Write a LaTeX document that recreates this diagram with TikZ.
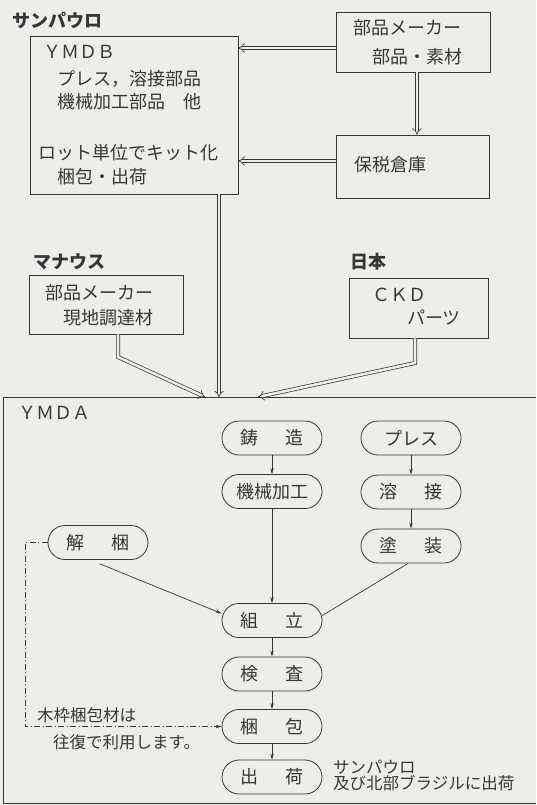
\documentclass[tikz,border=0pt]{standalone}
\usepackage{fontspec}
\setmainfont{Noto Sans CJK JP}
\usetikzlibrary{arrows.meta}
\definecolor{bg}{RGB}{237,237,234}
\definecolor{ink}{RGB}{55,55,55}
\begin{document}
\begin{tikzpicture}[x=1pt,y=-1pt,
  txt/.style={font=\fontsize{18}{22}\selectfont, text=ink, inner sep=0pt, anchor=west},
  smalltxt/.style={font=\fontsize{16.5}{20}\selectfont, text=ink, inner sep=0pt, anchor=west},
  lbl/.style={font=\bfseries\fontsize{18}{22}\selectfont, text=ink, inner sep=0pt, anchor=west},
  box/.style={draw=ink, line width=0.8pt, inner sep=0pt},
  stad/.style={draw=ink, line width=0.8pt, rounded corners=17pt, minimum width=100pt, minimum height=34pt, inner sep=0pt, font=\fontsize{18}{22}\selectfont, text=ink},
  dbl/.style={draw=ink, double=bg, double distance=2.6pt, line width=0.7pt, line join=miter, -{Implies[scale=1.6]}},
  thinarrow/.style={draw=ink, line width=0.7pt, -{Stealth[length=6pt,width=3.5pt]}},
  thinline/.style={draw=ink, line width=0.7pt},
  dashdot/.style={draw=ink, line width=0.7pt, dash pattern=on 6pt off 2.5pt on 1pt off 2.5pt, -{Stealth[length=6pt,width=3.5pt]}}
]
\fill[bg] (0,0) rectangle (536,805);
\useasboundingbox (0,0) rectangle (536,805);

% top region
\node[lbl] (lsp) at (12,20) {サンパウロ};
\node[box, minimum width=208pt, minimum height=158pt] (ymdb) at (134,115) {};
\node[txt] (t1) at (43,52) {ＹＭＤＢ};
\node[txt] (t2) at (57,79) {プレス，溶接部品};
\node[txt] (t3) at (57,102) {機械加工部品　他};
\node[txt] (t4) at (38,153) {ロット単位でキット化};
\node[txt] (t5) at (57,177) {梱包・出荷};

\node[box, minimum width=154pt, minimum height=60pt] (buhin) at (413,42) {};
\node[txt] (t6) at (353,28) {部品メーカー};
\node[txt] (t7) at (372,57) {部品・素材};

\node[box, minimum width=153pt, minimum height=63pt] (hozei) at (412.5,166.5) {};
\node[txt] (t8) at (354,165) {保税倉庫};

\node[lbl] (lma) at (33,262) {マナウス};
\node[box, minimum width=154pt, minimum height=59pt] (manaus) at (106,304.5) {};
\node[txt] (t9) at (45,293) {部品メーカー};
\node[txt] (t10) at (63,318) {現地調達材};

\node[lbl] (lja) at (350,262) {日本};
\node[box, minimum width=139pt, minimum height=60pt] (ckd) at (418.5,308) {};
\node[txt] (t11) at (372,295) {ＣＫＤ};
\node[txt] (t12) at (407,318) {パーツ};

% YMDA frame
\draw[ink, line width=0.8pt] (536,397) -- (3,397) -- (3,803) -- (536,803);
\node[txt] (tymda) at (18,413) {ＹＭＤＡ};

\coordinate (h1) at (0,48);
\coordinate (h2) at (0,161);
\coordinate (v1) at (417,0);
\coordinate (ta) at (205,397);
\coordinate (tb) at (219,397);
\coordinate (tc) at (258,397);
\coordinate (m1) at (118,357);
\coordinate (c1) at (415,363);

\draw[dbl] (buhin.west |- h1) -- (ymdb.east |- h1);
\draw[dbl] (hozei.west |- h2) -- (ymdb.east |- h2);
\draw[dbl] (buhin.south -| v1) -- (hozei.north -| v1);
\draw[dbl] (ymdb.south -| tb) -- (tb);
\draw[dbl] (manaus.south -| m1) -- (m1) -- (ta);
\draw[dbl] (ckd.south -| c1) -- (c1) -- (tc);

% process nodes
\node[stad] (chuzo) at (272,438) {鋳\hspace{1.5em}造};
\node[stad] (kikai) at (272,491.5) {機械加工};
\node[stad] (press) at (411,438) {プレス};
\node[stad] (yosetsu) at (411,492) {溶\hspace{1.5em}接};
\node[stad] (tosou) at (411,546) {塗\hspace{1.5em}装};
\node[stad] (kaikon) at (98,542.5) {解\hspace{1.5em}梱};
\node[stad] (kumi) at (272,620.5) {組\hspace{1.5em}立};
\node[stad] (kensa) at (272,674) {検\hspace{1.5em}査};
\node[stad] (konpo) at (272,726.5) {梱\hspace{1.5em}包};
\node[stad] (shukka) at (272,777) {出\hspace{1.5em}荷};

\draw[thinarrow] (chuzo) -- (kikai);
\draw[thinarrow] (kikai) -- (kumi);
\draw[thinarrow] (press) -- (yosetsu);
\draw[thinarrow] (yosetsu) -- (tosou);
\draw[thinline] ([xshift=-3pt]tosou.south) -- ([yshift=5pt]kumi.east);
\draw[thinarrow] ([xshift=2pt,yshift=-4pt]kaikon.south) -- ([yshift=7pt]kumi.west);
\draw[thinarrow] (kumi) -- (kensa);
\draw[thinarrow] (kensa) -- (konpo);
\draw[thinarrow] (konpo) -- (shukka);

\coordinate (dd) at (25,0);
\draw[dashdot] (kaikon.west) -- (kaikon.west -| dd) |- (konpo.west);

\node[smalltxt] (t13) at (37,715) {木枠梱包材は};
\node[smalltxt] (t14) at (53,742) {往復で利用します。};
\node[smalltxt] (t15) at (333,767) {サンパウロ};
\node[smalltxt] (t16) at (333,783) {及び北部ブラジルに出荷};
\end{tikzpicture}
\end{document}
